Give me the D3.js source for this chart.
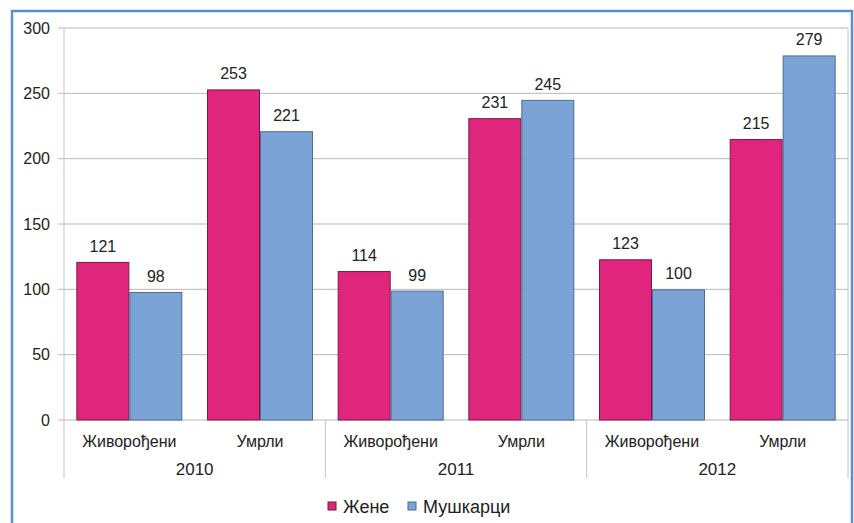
<!DOCTYPE html>
<html><head><meta charset="utf-8">
<script src="https://cdn.jsdelivr.net/npm/d3@7"></script>
<style>body{margin:0;background:#fff}svg{display:block;font-family:"Liberation Sans",Arial,sans-serif}</style>
</head><body><svg id="c" width="854" height="523"></svg>
<script>
const years = ["2010", "2011", "2012"];
const kinds = ["Живорођени", "Умрли"];
const seriesNames = ["Жене", "Мушкарци"];
const women = [121, 253, 114, 231, 123, 215];
const men = [98, 221, 99, 245, 100, 279];
const yTicks = [0, 50, 100, 150, 200, 250, 300];
const colors = ["#E0257C", "#7BA3D5"];
const strokes = ["#7a1a46", "#4d6b93"];

const svg = d3.select("#c");
// frame
svg.append("rect").attr("x", 12).attr("y", 11).attr("width", 840).attr("height", 520)
  .attr("fill", "none").attr("stroke", "#5b8fd0").attr("stroke-width", 2.5);

const L = 64, R = 848, T = 28, B = 420;
const cats = [];
years.forEach(y => kinds.forEach(k => cats.push(y + "|" + k)));
const x = d3.scaleBand().domain(cats).range([L, R]).paddingInner(0).paddingOuter(0);
const y = d3.scaleLinear().domain([0, 300]).range([B, T]);

// gridlines
svg.append("g").selectAll("line").data(yTicks).join("line")
  .attr("x1", L - 6).attr("x2", R).attr("y1", d => y(d)).attr("y2", d => y(d))
  .attr("stroke", "#b8b8b8").attr("stroke-width", 1);

// y labels
const yAxis = d3.axisLeft(y).tickValues(yTicks).tickSize(0).tickPadding(14);
const ga = svg.append("g").attr("transform", `translate(${L},0)`).call(yAxis);
ga.select(".domain").remove();
ga.selectAll("text").attr("font-size", 16).attr("fill", "#222").attr("font-family", "Liberation Sans, Arial, sans-serif");

// vertical axis lines & separators
const seps = [L, x(cats[2]), x(cats[4]), R];
svg.append("g").selectAll("line").data(seps).join("line")
  .attr("x1", d => d).attr("x2", d => d)
  .attr("y1", (d, i) => (i === 0 || i === 3) ? T : B).attr("y2", 478)
  .attr("stroke", "#c4c4c4").attr("stroke-width", 1);

const inner = d3.scaleBand().domain([0, 1]).range([0, x.bandwidth()]).paddingInner(0).paddingOuter(0.233);
const data = [];
cats.forEach((c, i) => {
  data.push({c, s: 0, v: women[i]});
  data.push({c, s: 1, v: men[i]});
});

svg.append("g").selectAll("rect").data(data).join("rect")
  .attr("x", d => x(d.c) + inner(d.s) + 0.5)
  .attr("y", d => y(d.v) + 0.5)
  .attr("width", inner.bandwidth() - 1)
  .attr("height", d => y(0) - y(d.v) - 0.5)
  .attr("fill", d => colors[d.s]).attr("stroke", d => strokes[d.s]).attr("stroke-width", 1);

svg.append("g").selectAll("text").data(data).join("text")
  .attr("x", d => x(d.c) + inner(d.s) + inner.bandwidth() / 2)
  .attr("y", d => y(d.v) - 10)
  .attr("text-anchor", "middle").attr("font-size", 16).attr("fill", "#222")
  .text(d => d.v);

// category labels
svg.append("g").selectAll("text").data(cats).join("text")
  .attr("x", d => x(d) + x.bandwidth() / 2).attr("y", 447)
  .attr("text-anchor", "middle").attr("font-size", 16).attr("fill", "#222")
  .text(d => d.split("|")[1]);
svg.append("g").selectAll("text").data(years).join("text")
  .attr("x", (d, i) => (x(cats[i * 2]) + x(cats[i * 2 + 1]) + x.bandwidth()) / 2).attr("y", 475)
  .attr("text-anchor", "middle").attr("font-size", 17).attr("fill", "#222")
  .text(d => d);

// legend
const lg = svg.append("g");
const lx = [328, 408];
seriesNames.forEach((n, i) => {
  lg.append("rect").attr("x", lx[i]).attr("y", 502).attr("width", 8).attr("height", 8)
    .attr("fill", colors[i]).attr("stroke", strokes[i]);
  lg.append("text").attr("x", lx[i] + 15).attr("y", 513).attr("font-size", 18).attr("fill", "#222").text(n);
});
</script></body></html>
